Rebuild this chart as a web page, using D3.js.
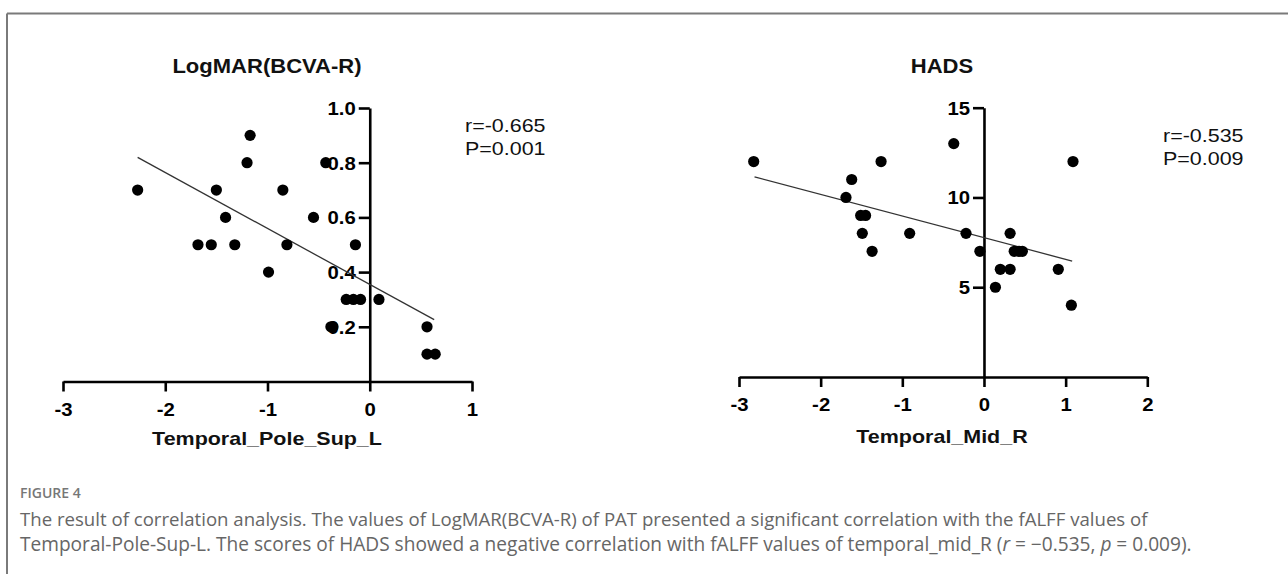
<!DOCTYPE html>
<html>
<head>
<meta charset="utf-8">
<script src="https://cdn.jsdelivr.net/npm/d3@7/dist/d3.min.js"></script>
<style>
  html, body { margin: 0; padding: 0; background: #fff; }
  svg { display: block; }
</style>
</head>
<body>
<svg id="chart" width="1288" height="574"></svg>
<script>
// ---------- DATA ----------
const leftTitle = "LogMAR(BCVA-R)";
const leftXLabel = "Temporal_Pole_Sup_L";
const leftX = [-2.27,-1.17,-1.20,-1.50,-0.85,-1.41,-0.55,-0.43,-1.68,-1.55,-1.32,-0.81,-0.14,-0.99,-0.23,-0.16,-0.09,0.09,-0.38,-0.36,0.56,0.56,0.64];
const leftY = [0.7,0.9,0.8,0.7,0.7,0.6,0.6,0.8,0.5,0.5,0.5,0.5,0.5,0.4,0.3,0.3,0.3,0.3,0.2,0.2,0.2,0.1,0.1];
const leftXTicks = [-3,-2,-1,0,1];
const leftYTicks = [0.2,0.4,0.6,0.8,1.0];
const leftFit = { slope: -0.2045, intercept: 0.355, from: -2.27, to: 0.63 };
const leftStats = ["r=-0.665", "P=0.001"];

const rightTitle = "HADS";
const rightXLabel = "Temporal_Mid_R";
const rightX = [-2.82,-1.26,-0.37,1.09,-1.62,-1.69,-1.51,-1.45,-1.49,-0.91,-0.22,0.32,-1.37,-0.05,0.37,0.43,0.47,0.20,0.32,0.91,0.14,1.07];
const rightY = [12,12,13,12,11,10,9,9,8,8,8,8,7,7,7,7,7,6,6,6,5,4];
const rightXTicks = [-3,-2,-1,0,1,2];
const rightYTicks = [5,10,15];
const rightFit = { slope: -1.206, intercept: 7.76, from: -2.81, to: 1.08 };
const rightStats = ["r=-0.535", "P=0.009"];

const figLabel = "FIGURE 4";
const captionLine1 = "The result of correlation analysis. The values of LogMAR(BCVA-R) of PAT presented a significant correlation with the fALFF values of";
const captionLine2 = [
  {t: "Temporal-Pole-Sup-L. The scores of HADS showed a negative correlation with fALFF values of temporal_mid_R ("},
  {t: "r", i: true}, {t: " = −0.535, "}, {t: "p", i: true}, {t: " = 0.009)."}
];

// ---------- DRAW ----------
const svg = d3.select("#chart");
const SX = 1.13; // horizontal text stretch seen in the reference
const chartFont = "'Liberation Sans', Arial, Helvetica, sans-serif";

// hyphen-minus tick formats, as in the reference
const fmtInt = d => String(d3.format("d")(d)).replace("−", "-");
const fmtOne = d => String(d3.format(".1f")(d)).replace("−", "-");

// frame
svg.append("line").attr("x1", 7).attr("y1", 13.5).attr("x2", 1288).attr("y2", 13.5)
  .attr("stroke", "#7a7a7a").attr("stroke-width", 2);
svg.append("line").attr("x1", 7).attr("y1", 13.5).attr("x2", 7).attr("y2", 574)
  .attr("stroke", "#7a7a7a").attr("stroke-width", 2);

function stretchedText(g, x, y, str, opts) {
  return g.append("text")
    .attr("transform", `translate(${x},${y}) scale(${SX},1)`)
    .attr("text-anchor", opts.anchor || "start")
    .attr("font-family", chartFont)
    .attr("font-size", opts.size)
    .attr("font-weight", opts.weight || "normal")
    .attr("fill", "#111")
    .text(str);
}

function panel(cfg) {
  const g = svg.append("g");
  const x = d3.scaleLinear().domain(cfg.xDomain).range(cfg.xRange);
  const y = d3.scaleLinear().domain(cfg.yDomain).range(cfg.yRange);

  // x axis at y = 0
  const xAxis = d3.axisBottom(x).tickValues(cfg.xTicks).tickSize(10).tickSizeOuter(0)
    .tickFormat(fmtInt);
  const gx = g.append("g").attr("transform", `translate(0,${y(0)})`).call(xAxis);
  // y axis at x = 0
  const yAxis = d3.axisLeft(y).tickValues(cfg.yTicks).tickSize(11).tickSizeOuter(0)
    .tickFormat(cfg.yFormat);
  const gy = g.append("g").attr("transform", `translate(${x(0)},0)`).call(yAxis);

  [gx, gy].forEach(a => {
    a.select(".domain").attr("stroke", "#000").attr("stroke-width", 2.6);
    a.selectAll(".tick line").attr("stroke", "#000").attr("stroke-width", 2.6);
    a.selectAll(".tick text")
      .attr("font-family", chartFont).attr("font-size", 18).attr("font-weight", "bold")
      .attr("fill", "#000");
  });
  gx.selectAll(".tick text").attr("dy", null).attr("y", 0)
    .attr("transform", `translate(0,34) scale(${SX},1)`);
  gy.selectAll(".tick text").attr("x", 0).attr("dy", "0.36em")
    .attr("transform", `translate(-14,0) scale(${SX},1)`);

  // regression line
  g.append("line")
    .attr("x1", x(cfg.fit.from)).attr("y1", y(cfg.fit.intercept + cfg.fit.slope * cfg.fit.from))
    .attr("x2", x(cfg.fit.to)).attr("y2", y(cfg.fit.intercept + cfg.fit.slope * cfg.fit.to))
    .attr("stroke", "#333").attr("stroke-width", 1.3);

  // points
  const pts = cfg.xs.map((v, i) => ({x: v, y: cfg.ys[i]}));
  g.selectAll("circle.pt").data(pts).enter().append("circle")
    .attr("class", "pt")
    .attr("cx", d => x(d.x)).attr("cy", d => y(d.y)).attr("r", 5.6)
    .attr("fill", "#000");

  // title, x label, stats
  stretchedText(g, cfg.titleX, 73, cfg.title, {anchor: "middle", size: 19.5, weight: "bold"});
  stretchedText(g, cfg.titleX, cfg.xLabelY, cfg.xLabel, {anchor: "middle", size: 19, weight: "bold"});
  stretchedText(g, cfg.statsX, cfg.statsY, cfg.stats[0], {size: 19});
  stretchedText(g, cfg.statsX, cfg.statsY + 23, cfg.stats[1], {size: 19});
}

panel({
  xs: leftX, ys: leftY, xDomain: [-3, 1], yDomain: [0, 1],
  xRange: [63, 472], yRange: [381.5, 108],
  xTicks: leftXTicks, yTicks: leftYTicks, yFormat: fmtOne,
  fit: leftFit, title: leftTitle, xLabel: leftXLabel, stats: leftStats,
  titleX: 267, xLabelY: 445, statsX: 465, statsY: 132
});
panel({
  xs: rightX, ys: rightY, xDomain: [-3, 2], yDomain: [0, 15],
  xRange: [739, 1147.3], yRange: [377, 107.7],
  xTicks: rightXTicks, yTicks: rightYTicks, yFormat: fmtInt,
  fit: rightFit, title: rightTitle, xLabel: rightXLabel, stats: rightStats,
  titleX: 942, xLabelY: 443, statsX: 1163, statsY: 142
});

// caption
const capFont = "'Open Sans', 'Noto Sans', sans-serif";
svg.append("text").attr("x", 20).attr("y", 498)
  .attr("font-family", capFont).attr("font-size", 14).attr("font-weight", 600)
  .attr("fill", "#777").text(figLabel);

const l1 = svg.append("text").attr("x", 20).attr("y", 526)
  .attr("font-family", capFont).attr("font-size", 15.5).attr("fill", "#666")
  .text(captionLine1);
const l2 = svg.append("text").attr("x", 20).attr("y", 551)
  .attr("font-family", capFont).attr("font-size", 15.5).attr("fill", "#666");
captionLine2.forEach(p => {
  l2.append("tspan").attr("font-style", p.i ? "italic" : "normal").text(p.t);
});
// fit caption lines to the reference line widths
function fitWidth(t, target) {
  const w = t.node().getComputedTextLength();
  const fs = parseFloat(t.attr("font-size"));
  t.attr("font-size", (fs * target / w).toFixed(2));
}
fitWidth(l1, 1128);
fitWidth(l2, 1172);
</script>
</body>
</html>
